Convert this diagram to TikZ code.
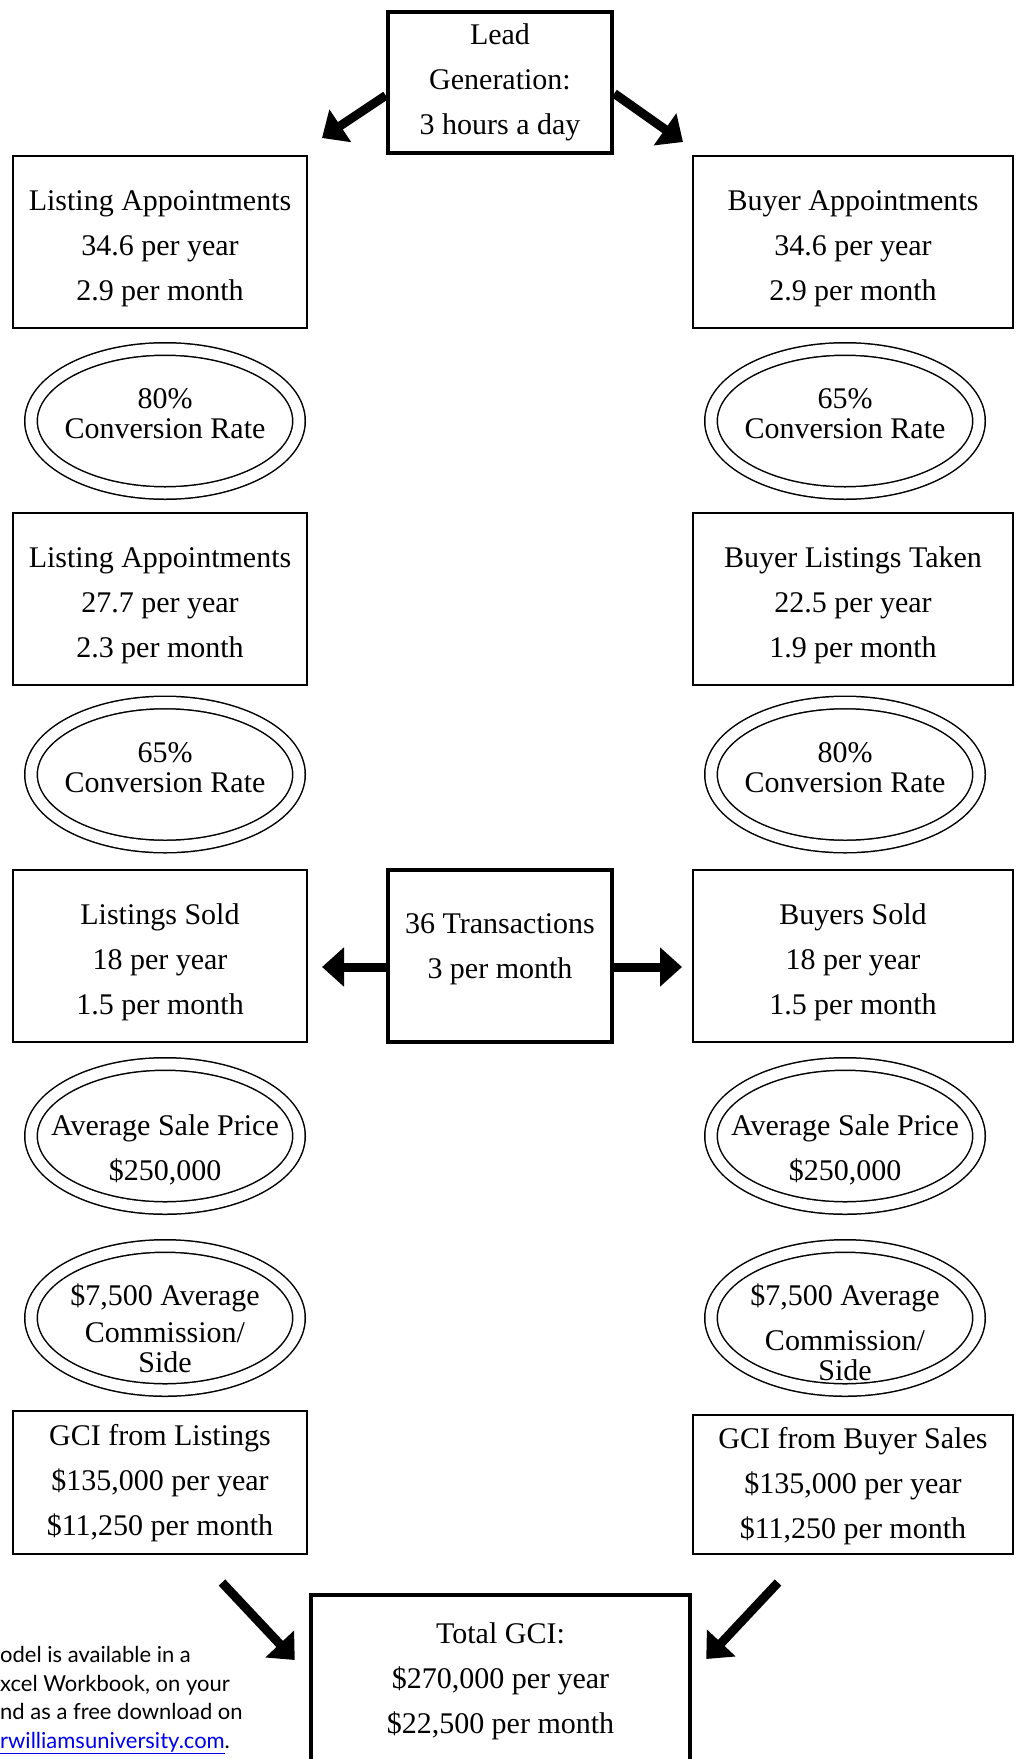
\documentclass[tikz,border=0pt]{standalone}
\usepackage{fontspec}
\setmainfont{Liberation Serif}
\newfontfamily\notefont{Lato}
\usepackage{xcolor}
\usetikzlibrary{shapes.geometric,arrows.meta,positioning}
\definecolor{linkblue}{RGB}{0,0,238}

\begin{document}
\begin{tikzpicture}[
x=1pt, y=-1pt,
stage/.style={
    draw,
    rectangle,
    line width=2pt,
    minimum height=172pt,
    inner sep=0pt,
    text height=117.5pt,
    text depth=0pt,
    align=center,
    font=\fontsize{30}{45}\selectfont
},
lstage/.style={stage, minimum width=294pt},
rstage/.style={stage, minimum width=320pt},
hub/.style={stage, line width=4.5pt, minimum width=224pt, text height={}, text depth=6.5pt},
rate/.style={
    draw,
    ellipse,
    double,
    double distance=11pt,
    line width=1.5pt,
    minimum width=268pt,
    minimum height=144pt,
    inner xsep=-40pt,
    inner ysep=-20pt,
    text depth=14pt,
    align=center,
    font=\fontsize{30}{30}\selectfont
},
arrow/.style={-{Triangle[length=22pt, width=38pt]}, line width=9pt}
]
\useasboundingbox (0,0) rectangle (1018,1759);

\node[hub, minimum height=141pt] (lead) at (500,82.5) {Lead\\Generation:\\3 hours a day};

\node[lstage] (lapp) at (160,242) {Listing Appointments\\34.6 per year\\2.9 per month};
\node[rstage] (bapp) at (853,242) {Buyer Appointments\\34.6 per year\\2.9 per month};

\node[rate] (lconv) at (165,421) {80\%\\Conversion Rate};
\node[rate] (bconv) at (845,421) {65\%\\Conversion Rate};

\node[lstage] (lkept) at (160,599) {Listing Appointments\\27.7 per year\\2.3 per month};
\node[rstage] (btaken) at (853,599) {Buyer Listings Taken\\22.5 per year\\1.9 per month};

\node[rate] (lclose) at (165,774.5) {65\%\\Conversion Rate};
\node[rate] (bclose) at (845,774.5) {80\%\\Conversion Rate};

\node[lstage] (lsold) at (160,956) {Listings Sold\\18 per year\\1.5 per month};
\node[hub, text depth=20.5pt] (trans) at (500,956) {36 Transactions\\3 per month};
\node[rstage] (bsold) at (853,956) {Buyers Sold\\18 per year\\1.5 per month};

\node[rate, text height=88.5pt, text depth=0pt, font=\fontsize{30}{45}\selectfont] (lprice) at (165,1136) {Average Sale Price\\\$250,000};
\node[rate, text height=88.5pt, text depth=0pt, font=\fontsize{30}{45}\selectfont] (bprice) at (845,1136) {Average Sale Price\\\$250,000};

\node[rate, text height=109.5pt, text depth=0pt] (lcomm) at (165,1318) {\$7,500 Average\\[7pt]Commission/\\Side};
\node[rate, text height=124.5pt, text depth=0pt] (bcomm) at (845,1318) {\$7,500 Average\\[15pt]Commission/\\Side};

\node[lstage, minimum height=143pt, text height=106.3pt] (lgci) at (160,1482) {GCI from Listings\\\$135,000 per year\\\$11,250 per month};
\node[rstage, minimum height=139pt, text height=108.5pt] (bgci) at (853,1484) {GCI from Buyer Sales\\\$135,000 per year\\\$11,250 per month};

\node[hub, minimum width=379pt] (total) at (500.5,1681) {Total GCI:\\\$270,000 per year\\\$22,500 per month};

\node[anchor=north west, inner sep=0pt, align=left, font=\notefont\fontsize{22}{28.7}\selectfont] (note) at (0,1646) {odel is available in a\\xcel Workbook, on your\\nd as a free download on\\\textcolor{linkblue}{\underline{rwilliamsuniversity.com}}.};

\draw[arrow] ([yshift=-13pt]lead.west) -- ([xshift=14pt,yshift=17pt]lapp.north east);
\draw[arrow] ([yshift=-11pt]lead.east) -- ([xshift=-9pt,yshift=13pt]bapp.north west);
\draw[arrow] ([yshift=-11pt]trans.west) -- ([xshift=14pt,yshift=-11pt]lsold.east);
\draw[arrow] ([yshift=-11pt]trans.east) -- ([xshift=-10pt,yshift=-11pt]bsold.west);
\draw[arrow] ([xshift=62pt,yshift=-28pt]lgci.south) -- ([xshift=-14pt,yshift=21pt]total.west);
\draw[arrow] ([xshift=-75pt,yshift=-28pt]bgci.south) -- ([xshift=14pt,yshift=22pt]total.east);

\end{tikzpicture}
\end{document}
